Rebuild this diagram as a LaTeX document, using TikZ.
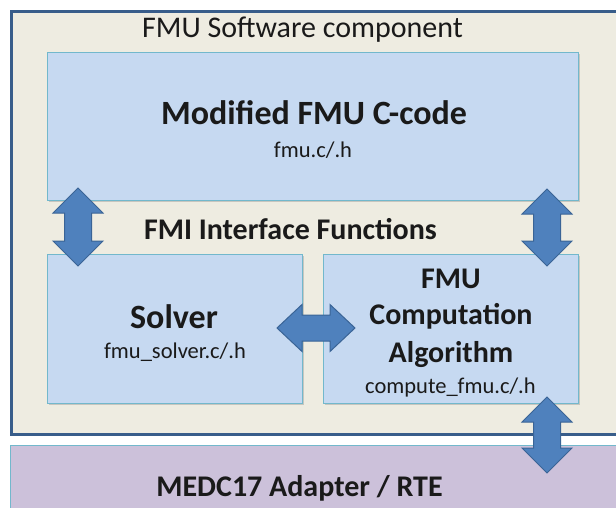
\documentclass[tikz,border=0pt]{standalone}
\usepackage{fontspec}
\setmainfont{Carlito}
\usetikzlibrary{shadows}
\definecolor{outerfill}{HTML}{EEECE1}
\definecolor{outerdraw}{HTML}{385D8A}
\definecolor{boxfill}{HTML}{C6D9F1}
\definecolor{boxdraw}{HTML}{72B8CC}
\definecolor{medfill}{HTML}{CCC1DA}
\definecolor{arrfill}{HTML}{4F81BD}
\definecolor{arrdraw}{HTML}{3A6496}
\definecolor{txt}{HTML}{1A1A1A}
\tikzset{
  compbox/.style={draw=boxdraw, fill=boxfill, line width=1pt, inner sep=0pt,
    drop shadow={opacity=0.35, shadow xshift=1.5pt, shadow yshift=-1.5pt}},
  blockarrow/.style={fill=arrfill, draw=arrdraw, line width=1pt, line join=miter},
  lbl/.style={anchor=base, inner sep=0pt, text=txt},
  normtxt/.style={lbl, font=\fontsize{30}{36}\selectfont},
  boldtxt/.style={lbl, font=\fontsize{30}{36}\selectfont\bfseries},
  bigtxt/.style={lbl, font=\fontsize{34}{40}\selectfont\bfseries},
  smalltxt/.style={lbl, font=\fontsize{22.5}{27}\selectfont},
}
\newcommand{\vdarrow}[3]{% cx, ytop, ybottom
  \draw[blockarrow] (#1,#2) -- (#1+25,#2+25) -- (#1+13.5,#2+25) -- (#1+13.5,#3-25)
    -- (#1+25,#3-25) -- (#1,#3) -- (#1-25,#3-25) -- (#1-13.5,#3-25)
    -- (#1-13.5,#2+25) -- (#1-25,#2+25) -- cycle;}
\newcommand{\hdarrow}[3]{% cy, xleft, xright
  \draw[blockarrow] (#2,#1) -- (#2+25,#1-23.5) -- (#2+25,#1-13) -- (#3-25,#1-13)
    -- (#3-25,#1-23.5) -- (#3,#1) -- (#3-25,#1+23.5) -- (#3-25,#1+13)
    -- (#2+25,#1+13) -- (#2+25,#1+23.5) -- cycle;}
\begin{document}
\begin{tikzpicture}[x=1pt,y=-1pt]
\useasboundingbox (0,0) rectangle (616,508);
\clip (0,0) rectangle (616,508);
% outer component
\node[draw=outerdraw, fill=outerfill, line width=3pt, minimum width=640pt, minimum height=423pt, anchor=north west, inner sep=0pt] (outer) at (10,10) {};
% adapter
\node[draw=boxdraw, fill=medfill, line width=1pt, minimum width=640pt, minimum height=90pt, anchor=north west, inner sep=0pt] (medc) at (10,445) {};
% inner boxes
\node[compbox, minimum width=531pt, minimum height=148pt, anchor=north west] (fmu) at (47,52) {};
\node[compbox, minimum width=255pt, minimum height=149pt, anchor=north west] (solver) at (47,254) {};
\node[compbox, minimum width=255pt, minimum height=149pt, anchor=north west] (comp) at (323,254) {};
% texts
\node[normtxt] (title) at (302.5,37.5) {FMU Software component};
\node[bigtxt] (fmuT) at (314,125) {Modified FMU C-code};
\node[smalltxt] (fmuF) at (313,158) {fmu.c/.h};
\node[boldtxt] (fmi) at (290.5,239) {FMI Interface Functions};
\node[bigtxt] (solT) at (174,328) {Solver};
\node[smalltxt] (solF) at (175,358) {fmu\_solver.c/.h};
\node[boldtxt] (compA) at (451,288) {FMU};
\node[boldtxt] (compB) at (451,324) {Computation};
\node[boldtxt] (compC) at (451,362) {Algorithm};
\node[smalltxt] (compF) at (450.5,393) {compute\_fmu.c/.h};
\node[boldtxt] (medT) at (299.5,496) {MEDC17 Adapter / RTE};
% block arrows
\vdarrow{78}{188}{266}
\vdarrow{547}{189}{266}
\vdarrow{547}{397}{473}
\hdarrow{328}{277}{355}
\end{tikzpicture}
\end{document}
